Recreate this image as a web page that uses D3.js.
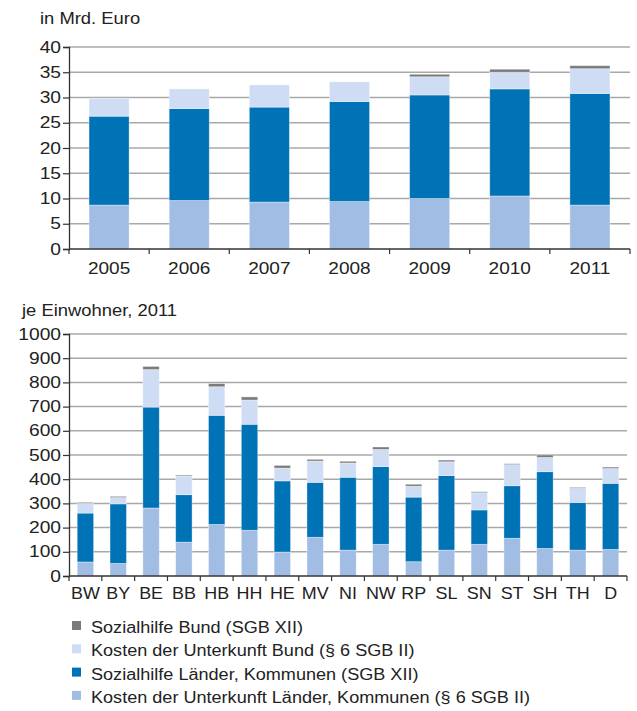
<!DOCTYPE html>
<html>
<head>
<meta charset="utf-8">
<script src="https://cdn.jsdelivr.net/npm/d3@7"></script>
<style>
  body { margin: 0; background: #fff; }
  svg { display: block; }
  svg text { font-family: "Liberation Sans", Arial, Helvetica, sans-serif; fill: #222; }
</style>
</head>
<body>
<svg id="chart" width="637" height="711"></svg>
<script>
// Series keys, bottom to top of each stack
const seriesKeys = ["kduLaender", "shLaender", "kduBund", "shBund"];
const seriesLabels = {
  shBund: "Sozialhilfe Bund (SGB XII)",
  kduBund: "Kosten der Unterkunft Bund (§ 6 SGB II)",
  shLaender: "Sozialhilfe Länder, Kommunen (SGB XII)",
  kduLaender: "Kosten der Unterkunft Länder, Kommunen (§ 6 SGB II)"
};
const seriesColors = {
  shBund: "#7b7b7b",
  kduBund: "#cfddf4",
  shLaender: "#0072b6",
  kduLaender: "#a2bde3"
};
const legendOrder = ["shBund", "kduBund", "shLaender", "kduLaender"];

// Upper panel: totals in billion euro by year
const years = ["2005", "2006", "2007", "2008", "2009", "2010", "2011"];
const yearKduLaender = [8.7, 9.6, 9.3, 9.4, 10.0, 10.5, 8.7];
const yearShLaender  = [17.6, 18.2, 18.8, 19.8, 20.5, 21.2, 22.1];
const yearKduBund    = [3.5, 3.9, 4.4, 3.9, 3.6, 3.3, 4.9];
const yearShBund     = [0, 0, 0, 0, 0.5, 0.6, 0.6];
const yearTicks = [0, 5, 10, 15, 20, 25, 30, 35, 40];

// Lower panel: euro per inhabitant by federal state, 2011
const states = ["BW", "BY", "BE", "BB", "HB", "HH", "HE", "MV", "NI", "NW", "RP", "SL", "SN", "ST", "SH", "TH", "D"];
const stateKduLaender = [58, 52, 281, 140, 213, 189, 99, 160, 107, 131, 59, 107, 131, 156, 114, 107, 110];
const stateShLaender  = [202, 246, 417, 196, 451, 438, 294, 227, 301, 321, 267, 308, 142, 217, 317, 197, 273];
const stateKduBund    = [40, 26, 155, 77, 118, 100, 53, 88, 59, 71, 45, 57, 71, 87, 59, 58, 61];
const stateShBund     = [4, 5, 13, 4, 13, 13, 11, 7, 7, 10, 8, 7, 4, 4, 10, 4, 6];
const stateTicks = [0, 100, 200, 300, 400, 500, 600, 700, 800, 900, 1000];

const svg = d3.select("#chart");

// place text at (x, y), widened horizontally by sx
function placeText(sel, x, y, sx) {
  sel.attr("x", 0).attr("y", 0)
    .attr("transform", (d, i) => {
      const px = typeof x === "function" ? x(d, i) : x;
      const py = typeof y === "function" ? y(d, i) : y;
      return `translate(${px},${py}) scale(${sx},1)`;
    });
}

function drawPanel(cfg) {
  const rows = cfg.categories.map((c, i) => ({
    cat: c,
    kduLaender: cfg.kduLaender[i],
    shLaender: cfg.shLaender[i],
    kduBund: cfg.kduBund[i],
    shBund: cfg.shBund[i]
  }));

  const x = d3.scaleBand().domain(cfg.categories).range([cfg.left, cfg.right]).paddingInner(0.5).paddingOuter(0.25);
  const y = d3.scaleLinear().domain([0, cfg.max]).range([cfg.bottom, cfg.top]);

  const g = svg.append("g");

  // title
  g.append("text")
    .attr("font-size", 16)
    .text(cfg.title)
    .call(placeText, cfg.titleX, cfg.titleY, 1.15);

  // horizontal grid lines
  g.append("g").selectAll("line")
    .data(cfg.ticks.filter(t => t > 0))
    .join("line")
    .attr("x1", cfg.left).attr("x2", cfg.right)
    .attr("y1", d => y(d)).attr("y2", d => y(d))
    .attr("stroke", "#a8a8a8").attr("stroke-width", 1.5);

  // stacked bars
  const stack = d3.stack().keys(seriesKeys)(rows);
  g.append("g").selectAll("g")
    .data(stack)
    .join("g")
    .attr("fill", d => seriesColors[d.key])
    .selectAll("rect")
    .data(d => d.filter(p => p[1] - p[0] > 0))
    .join("rect")
    .attr("x", d => x(d.data.cat))
    .attr("width", x.bandwidth())
    .attr("y", d => y(d[1]))
    .attr("height", d => y(d[0]) - y(d[1]))
    .attr("stroke", "rgba(255,255,255,0.45)")
    .attr("stroke-width", 0.8);

  // y axis
  const yAxis = d3.axisLeft(y).tickValues(cfg.ticks).tickFormat(d3.format("d")).tickSize(6).tickPadding(2);
  const ya = g.append("g").attr("transform", `translate(${cfg.left},0)`).call(yAxis)
    .attr("font-family", null).attr("font-size", null);
  ya.select(".domain").attr("stroke", "#333").attr("stroke-width", 1.3);
  ya.selectAll(".tick line").attr("stroke", "#333").attr("stroke-width", 1.2);
  ya.selectAll(".tick text")
    .attr("font-size", 16)
    .attr("fill", "#222")
    .attr("transform", "scale(1.2,1)")
    .attr("x", -8 / 1.2);

  // x axis with ticks on category boundaries
  const xa = g.append("g").attr("transform", `translate(0,${cfg.bottom})`);
  xa.append("line")
    .attr("x1", cfg.left).attr("x2", cfg.right)
    .attr("stroke", "#333").attr("stroke-width", 1.5);
  const step = x.step();
  const bounds = d3.range(cfg.categories.length + 1).map(i => cfg.left + i * step);
  xa.selectAll("line.tk").data(bounds).join("line")
    .attr("class", "tk")
    .attr("x1", d => d).attr("x2", d => d)
    .attr("y1", 0).attr("y2", 5)
    .attr("stroke", "#333").attr("stroke-width", 1.2);
  xa.selectAll("text").data(cfg.categories).join("text")
    .attr("text-anchor", "middle")
    .attr("font-size", cfg.labelSize)
    .text(d => d)
    .call(placeText, d => x(d) + x.bandwidth() / 2, cfg.labelDy, cfg.labelScale);
}

drawPanel({
  title: "in Mrd. Euro", titleX: 40, titleY: 24,
  categories: years,
  kduLaender: yearKduLaender, shLaender: yearShLaender, kduBund: yearKduBund, shBund: yearShBund,
  ticks: yearTicks, max: 40,
  left: 69, right: 630, top: 47, bottom: 249,
  labelDy: 25, labelSize: 17, labelScale: 1.12
});

drawPanel({
  title: "je Einwohner, 2011", titleX: 22, titleY: 316,
  categories: states,
  kduLaender: stateKduLaender, shLaender: stateShLaender, kduBund: stateKduBund, shBund: stateShBund,
  ticks: stateTicks, max: 1000,
  left: 69, right: 627, top: 334, bottom: 576,
  labelDy: 23, labelSize: 16, labelScale: 1.12
});

// legend
const legend = svg.append("g");
const legendRows = legend.selectAll("g").data(legendOrder).join("g")
  .attr("transform", (d, i) => `translate(72,${633 + i * 23.3})`);
legendRows.append("rect")
  .attr("x", 0).attr("y", -12).attr("width", 9).attr("height", 9)
  .attr("fill", d => seriesColors[d]);
legendRows.append("text")
  .attr("font-size", 16)
  .text(d => seriesLabels[d])
  .call(placeText, 19, 0, 1.13);
</script>
</body>
</html>
